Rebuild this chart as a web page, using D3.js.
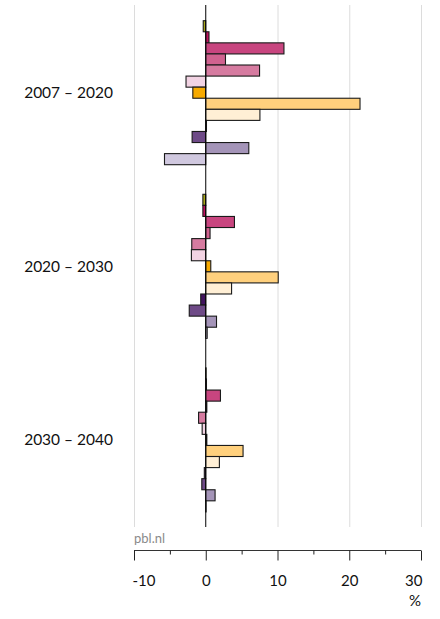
<!DOCTYPE html>
<html><head><meta charset="utf-8">
<script src="https://cdn.jsdelivr.net/npm/d3@7"></script>
<style>
body{margin:0;background:#fff;}
svg{display:block;font-family:Lato,"Open Sans",sans-serif;}
</style></head>
<body><svg id="c" width="440" height="619"></svg>
<script>
const categories = ["2007 – 2020", "2020 – 2030", "2030 – 2040"];
const seriesKeys = ["s1","s2","s3","s4","s5","s6","s7","s8","s9","s10","s11","s12","s13"];
const seriesColors = ["#a9a81a","#c0125f","#c8457f","#d0628f","#d67ba0","#f2d3e3","#f7aa00","#ffd07d","#ffefd5","#42145f","#6e4a87","#a494b8","#d0c8df"];
const values2007_2020 = [-0.35, 0.45, 10.9, 2.75, 7.5, -2.75, -1.8, 21.5, 7.55, 0.1, -1.9, 6.0, -5.75];
const values2020_2030 = [-0.4, -0.4, 4.0, 0.6, -1.95, -2.0, 0.7, 10.1, 3.6, -0.7, -2.3, 1.5, 0.2];
const values2030_2040 = [0.05, 0.1, 2.05, 0.15, -1.0, -0.5, 0.15, 5.2, 1.9, -0.2, -0.55, 1.3, 0.05];
const xTicks = [-10, 0, 10, 20, 30];
const xMinorTicks = [-5, 5, 15, 25];
const unitLabel = "%";
const sourceLabel = "pbl.nl";

const groupValues = [values2007_2020, values2020_2030, values2030_2040];
const rows = categories.map((c, i) => ({cat: c, vals: seriesKeys.map((k, j) => ({key: k, value: groupValues[i][j]}))}));

const svg = d3.select("#c");
const x = d3.scaleLinear().domain([-10, 30]).range([134, 421]);
const y0 = d3.scaleBand().domain(categories).range([20.7, 511.9]).paddingInner(0.1705).paddingOuter(0);
const y1 = d3.scaleBand().domain(seriesKeys).range([0, y0.bandwidth()]).padding(0);
const color = d3.scaleOrdinal().domain(seriesKeys).range(seriesColors);

// gridlines
svg.append("g").selectAll("line").data(xTicks.filter(t => t !== 0)).join("line")
  .attr("x1", d => x(d) + 0.5).attr("x2", d => x(d) + 0.5)
  .attr("y1", 5).attr("y2", 527)
  .attr("stroke", "#dcdcdc").attr("stroke-width", 1);

// bars
const g = svg.append("g").selectAll("g").data(rows).join("g")
  .attr("transform", d => `translate(0,${y0(d.cat)})`);
g.selectAll("rect").data(d => d.vals).join("rect")
  .attr("x", d => x(Math.min(0, d.value)))
  .attr("width", d => Math.abs(x(d.value) - x(0)))
  .attr("y", d => y1(d.key))
  .attr("height", y1.bandwidth())
  .attr("fill", d => color(d.key))
  .attr("stroke", "#1a1a1a").attr("stroke-width", 1.1);

// zero line
svg.append("line").attr("x1", x(0)).attr("x2", x(0)).attr("y1", 5).attr("y2", 527)
  .attr("stroke", "#000").attr("stroke-width", 1);

// category labels
svg.append("g").selectAll("text").data(categories).join("text")
  .attr("x", 113).attr("y", d => y0(d) + y0.bandwidth() / 2)
  .attr("dy", "0.35em").attr("text-anchor", "end")
  .attr("font-size", 15.5).attr("fill", "#111").text(d => d);

// bottom axis
const axisY = 550.5;
const axis = svg.append("g").attr("transform", `translate(0,${axisY})`)
  .call(d3.axisBottom(x).tickValues(xTicks).tickSize(10).tickPadding(15).tickFormat(d => String(d)));
axis.select(".domain").attr("stroke", "#333").attr("d", `M${x(-10)},0H${x(30)}`);
axis.selectAll(".tick line").attr("stroke", "#222");
axis.selectAll(".tick text").attr("font-size", 15).attr("fill", "#111")
  .attr("font-family", "Lato, 'Open Sans', sans-serif")
  .attr("text-anchor", d => d === -10 ? "start" : d === 30 ? "end" : "middle")
  .attr("dx", d => d === -10 ? -2 : d === 30 ? 1 : 0);
axis.append("g").selectAll("line").data(xMinorTicks).join("line")
  .attr("x1", d => x(d) + 0.5).attr("x2", d => x(d) + 0.5)
  .attr("y1", 0).attr("y2", 4).attr("stroke", "#222");

svg.append("text").attr("x", 421).attr("y", 606).attr("text-anchor", "end")
  .attr("font-size", 15).attr("fill", "#111").text(unitLabel);
svg.append("text").attr("x", 134).attr("y", 543).attr("font-size", 13)
  .attr("fill", "#8a8a8a").text(sourceLabel);
</script></body></html>
